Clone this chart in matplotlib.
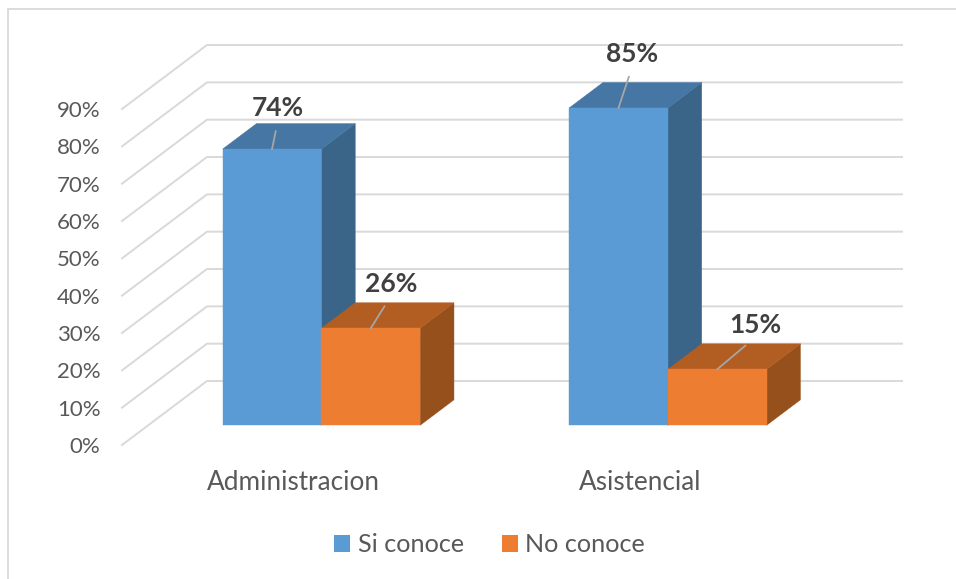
import matplotlib
matplotlib.use("Agg")
import matplotlib.pyplot as plt
from matplotlib.patches import Patch, Polygon, Rectangle
from matplotlib.ticker import PercentFormatter
from matplotlib.transforms import ScaledTranslation

categories = ["Administracion", "Asistencial"]
si_conoce = [74, 85]
no_conoce = [26, 15]
y_ticks = [0, 10, 20, 30, 40, 50, 60, 70, 80, 90]
series_names = ["Si conoce", "No conoce"]

W, H = 956, 579
BAR_W = 0.285
# depth of the fake 3D floor, in data units
DEPTH_X = 0.2453
DEPTH_Y = 17.14
BAR_FRONT = 0.308
BAR_BACK = 0.706
X_MAX = 1.506

plt.rcParams["font.family"] = ["Lato", "DejaVu Sans"]
GRID = "#D9D9D9"
TICK = "#595959"
BLUE = ("#5B9BD5", "#4676A3", "#3A6488")
ORANGE = ("#ED7D31", "#B25D22", "#96501C")


def project(x, v, d):
    return (x + d * DEPTH_X, v + d * DEPTH_Y)


def draw_bar(ax, x0, value, colors):
    x1 = x0 + BAR_W
    f = BAR_FRONT
    b = BAR_BACK
    front = [project(x0, 0, f), project(x1, 0, f), project(x1, value, f), project(x0, value, f)]
    top = [project(x0, value, f), project(x1, value, f), project(x1, value, b), project(x0, value, b)]
    side = [project(x1, 0, f), project(x1, 0, b), project(x1, value, b), project(x1, value, f)]
    for pts, c in [(side, colors[2]), (top, colors[1]), (front, colors[0])]:
        ax.add_patch(Polygon(pts, closed=True, facecolor=c, edgecolor=c, lw=0.3, clip_on=False, zorder=3))


def label_bar(ax, x0, value, dx, dy):
    xy = project(x0 + BAR_W / 2, value, BAR_FRONT)
    ax.annotate(f"{value}%", xy=xy, xytext=(dx, dy), textcoords="offset pixels",
                ha="center", va="center", fontsize=19, fontweight="bold", color="#404040",
                annotation_clip=False, zorder=5,
                arrowprops=dict(arrowstyle="-", color="#A6A6A6", lw=1.3, shrinkA=6, shrinkB=0,
                                relpos=(0.5, 0)))


fig = plt.figure(figsize=(W / 100, H / 100), dpi=100, facecolor="white")
ax = fig.add_axes([122 / W, 1 - 445 / H, 695 / W, 336 / H])
ax.set_xlim(-0.5, X_MAX)
ax.set_ylim(0, 90)
for s in ax.spines.values():
    s.set_visible(False)
ax.patch.set_alpha(0)

# chart frame, only left and top show
fig.add_artist(Rectangle((8 / W, -0.05), 1.1, 1.05 - 9 / H, transform=fig.transFigure,
                         facecolor="none", edgecolor=GRID, lw=1.3))

# gridlines run along the floor side and then the back wall
for v in y_ticks:
    p0 = project(-0.5, v, 0)
    p1 = project(-0.5, v, 1)
    p2 = project(X_MAX, v, 1)
    ax.plot([p0[0], p1[0], p2[0]], [p0[1], p1[1], p2[1]], color=GRID, lw=1.4,
            clip_on=False, zorder=1, solid_joinstyle="miter")

for i in range(len(categories)):
    draw_bar(ax, i - BAR_W, si_conoce[i], BLUE)
    draw_bar(ax, i, no_conoce[i], ORANGE)

label_bar(ax, 0 - BAR_W, si_conoce[0], 6, 41)
label_bar(ax, 1 - BAR_W, si_conoce[1], 14, 54)
label_bar(ax, 0, no_conoce[0], 20, 44)
label_bar(ax, 1, no_conoce[1], 38, 44)

ax.set_yticks(y_ticks)
ax.yaxis.set_major_formatter(PercentFormatter(decimals=0))
ax.set_xticks(range(len(categories)), categories)
ax.tick_params(axis="both", length=0, labelsize=16, labelcolor=TICK)
ax.tick_params(axis="y", pad=15.5)
ax.tick_params(axis="x", labelsize=18.8, pad=18)
offset = ScaledTranslation(-2 / 100, 0, fig.dpi_scale_trans)
for lab in ax.get_xticklabels():
    lab.set_transform(lab.get_transform() + offset)

handles = [Patch(facecolor=BLUE[0], edgecolor="none"), Patch(facecolor=ORANGE[0], edgecolor="none")]
fig.legend(handles, series_names, loc="center", bbox_to_anchor=(489.5 / W, 1 - 545 / H), ncol=2,
           frameon=False, fontsize=18.2, labelcolor=TICK, handlelength=0.64, handleheight=0.64,
           handletextpad=0.3, columnspacing=1.5)

fig.savefig("out.png", dpi=100, facecolor="white")
